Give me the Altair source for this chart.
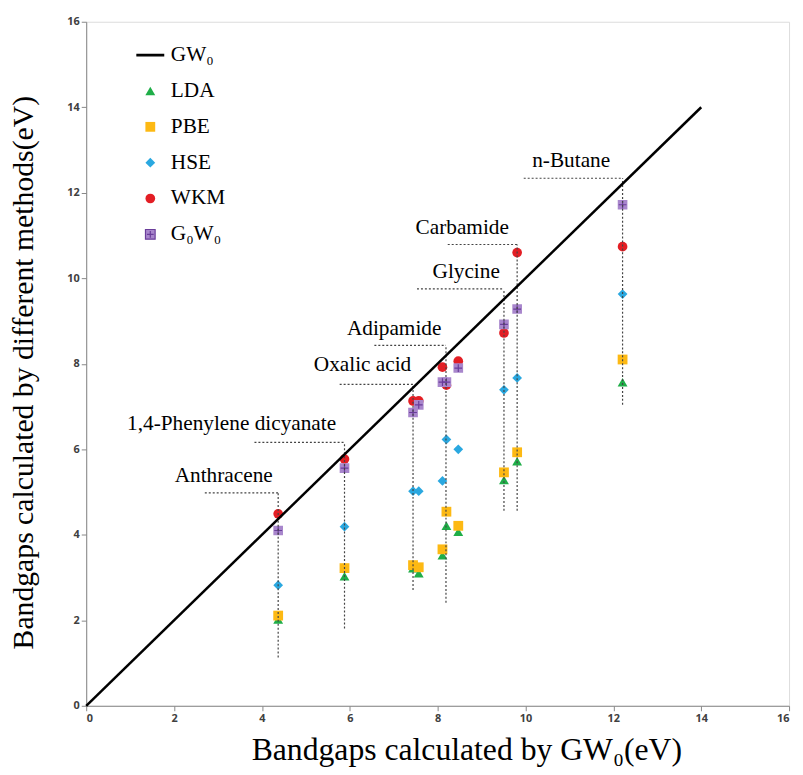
import altair as alt
import pandas as pd

# ---- data ----
methods = ["LDA", "PBE", "HSE", "WKM", "G₀W₀"]
gw0 = [4.37, 5.88, 7.44, 7.57, 8.11, 8.20, 8.47, 9.51, 9.81, 12.21]
lda = [2.02, 3.03, 3.22, 3.10, 3.52, 4.21, 4.07, 5.28, 5.72, 7.57]
pbe = [2.11, 3.22, 3.29, 3.24, 3.66, 4.54, 4.21, 5.46, 5.93, 8.10]
hse = [2.82, 4.19, 5.02, 5.02, 5.26, 6.23, 6.00, 7.39, 7.67, 9.63]
wkm = [4.49, 5.77, 7.13, 7.13, 7.92, 7.50, 8.06, 8.72, 10.60, 10.74]
g0w0 = [4.10, 5.56, 6.86, 7.04, 7.57, 7.57, 7.90, 8.92, 9.28, 11.72]

label_names = ["Anthracene", "1,4-Phenylene  dicyanate", "Oxalic  acid",
               "Adipamide", "Glycine", "Carbamide", "n-Butane"]
label_gw0 = [4.37, 5.88, 7.44, 8.19, 9.51, 9.81, 12.21]
guide_top = [4.98, 6.16, 7.52, 8.43, 9.75, 10.79, 12.34]
guide_bottom = [1.13, 1.81, 2.71, 2.41, 4.56, 4.56, 7.04]
guide_left = [2.70, 3.83, 5.77, 6.56, 7.53, 8.23, 9.96]
label_x = [3.13, 3.31, 6.29, 7.01, 8.65, 8.56, 11.04]
label_y = [5.37, 6.58, 7.96, 8.82, 10.14, 11.18, 12.73]

ref_x = [0, 14]
ref_y = [0, 14]
axis_ticks = [0, 2, 4, 6, 8, 10, 12, 14, 16]

# ---- tables ----
series = {"LDA": lda, "PBE": pbe, "HSE": hse, "WKM": wkm, "G₀W₀": g0w0}
rows = []
for i, m in enumerate(methods):
    for xv, yv in zip(gw0, series[m]):
        rows.append({"gw0": xv, "val": yv, "method": m, "k": i})
pts = pd.DataFrame(rows)
crosses = pts[pts["method"] == "G₀W₀"]

guides = pd.DataFrame({"name": label_names, "x": label_gw0, "top": guide_top,
                       "bottom": guide_bottom, "left": guide_left,
                       "lx": label_x, "ly": label_y})
ref = pd.DataFrame({"x": ref_x, "y": ref_y})

legend_order = ["GW₀"] + methods
fill_colors = ["#000000", "#1fae48", "#fdb913", "#2aa8e0", "#e31e24", "#a886cc"]
line_path = "M-2.7,-0.15H2.7V0.15H-2.7Z"
g0w0_path = "M-1,-1H1V1H-1Z M-0.7,0H0.7 M0,-0.7V0.7"
shapes = [line_path, "triangle-up", "square", "diamond", "circle", g0w0_path]
sizes = [100, 95, 55, 75, 155, 125]

xscale = alt.Scale(domain=[0, 16], nice=False)
yscale = alt.Scale(domain=[0, 16], nice=False)

xaxis = alt.Axis(values=axis_ticks, grid=False, tickSize=5, labelFont="Open Sans",
                 labelFontSize=11, labelColor="#404040", labelFontWeight="bold",
                 domainColor="#888888", tickColor="#888888",
                 title="Bandgaps calculated by GW₀(eV)", titleFont="Liberation Serif",
                 titleFontSize=32, titleFontWeight="normal", titleColor="black",
                 titlePadding=11, titleX=384, titleAlign="center")
yaxis = alt.Axis(values=axis_ticks, grid=False, tickSize=5, labelFont="Open Sans",
                 labelFontSize=11, labelColor="#404040", labelFontWeight="bold",
                 domainColor="#888888", tickColor="#888888",
                 title="Bandgaps calculated by different methods(eV)",
                 titleFont="Liberation Serif", titleFontSize=30,
                 titleFontWeight="normal", titleColor="black", titlePadding=29,
                 titleY=354, titleAlign="center")

sym_stroke = ("datum.value === 'G₀W₀' ? '#6a3d9a' : "
              "(datum.value === 'GW₀' ? '#000000' : 'transparent')")
leg = alt.Legend(orient="none", legendX=54, legendY=23, title=None,
                 labelFont="Liberation Serif", labelFontSize=21.5, labelColor="black",
                 symbolSize=100, rowPadding=13.2, labelOffset=10,
                 symbolStrokeColor={"expr": sym_stroke}, symbolStrokeWidth=1.2)

points = alt.Chart(pts).mark_point(filled=True, opacity=1).encode(
    x=alt.X("gw0:Q", scale=xscale, axis=xaxis),
    y=alt.Y("val:Q", scale=yscale, axis=yaxis),
    color=alt.Color("method:N", scale=alt.Scale(domain=legend_order, range=fill_colors), legend=leg),
    shape=alt.Shape("method:N", scale=alt.Scale(domain=legend_order, range=shapes), legend=leg),
    size=alt.Size("method:N", scale=alt.Scale(domain=legend_order, range=sizes), legend=None),
    order=alt.Order("k:Q"),
)

cross = alt.Chart(crosses).mark_point(shape="M-0.7,0H0.7M0,-0.7V0.7", filled=False,
                                      color="#6a3d9a", strokeWidth=1.2, size=125, opacity=1).encode(
    x=alt.X("gw0:Q", scale=xscale), y=alt.Y("val:Q", scale=yscale))

vrules = alt.Chart(guides).mark_rule(color="#444444", strokeDash=[2, 2], strokeWidth=1.2).encode(
    x=alt.X("x:Q", scale=xscale), y=alt.Y("bottom:Q", scale=yscale), y2="top:Q")
hrules = alt.Chart(guides).mark_rule(color="#444444", strokeDash=[2, 2], strokeWidth=1.2).encode(
    x=alt.X("left:Q", scale=xscale), x2="x:Q", y=alt.Y("top:Q", scale=yscale))
labels = alt.Chart(guides).mark_text(font="Liberation Serif", fontSize=21.5, color="black",
                                     align="center", baseline="middle").encode(
    x=alt.X("lx:Q", scale=xscale), y=alt.Y("ly:Q", scale=yscale), text="name:N")

line = alt.Chart(ref).mark_line(color="black", strokeWidth=2.5).encode(
    x=alt.X("x:Q", scale=xscale), y=alt.Y("y:Q", scale=yscale))

chart = alt.layer(points, cross, vrules, hrules, line, labels).properties(
    width=710, height=691,
    autosize=alt.AutoSizeParams(type="none"),
    padding={"left": 79, "top": 10, "right": 6, "bottom": 64},
).configure_view(stroke="#888888", strokeWidth=1).configure(background="white")

chart.save("out.html", embed_options={"renderer": "svg", "actions": False})
